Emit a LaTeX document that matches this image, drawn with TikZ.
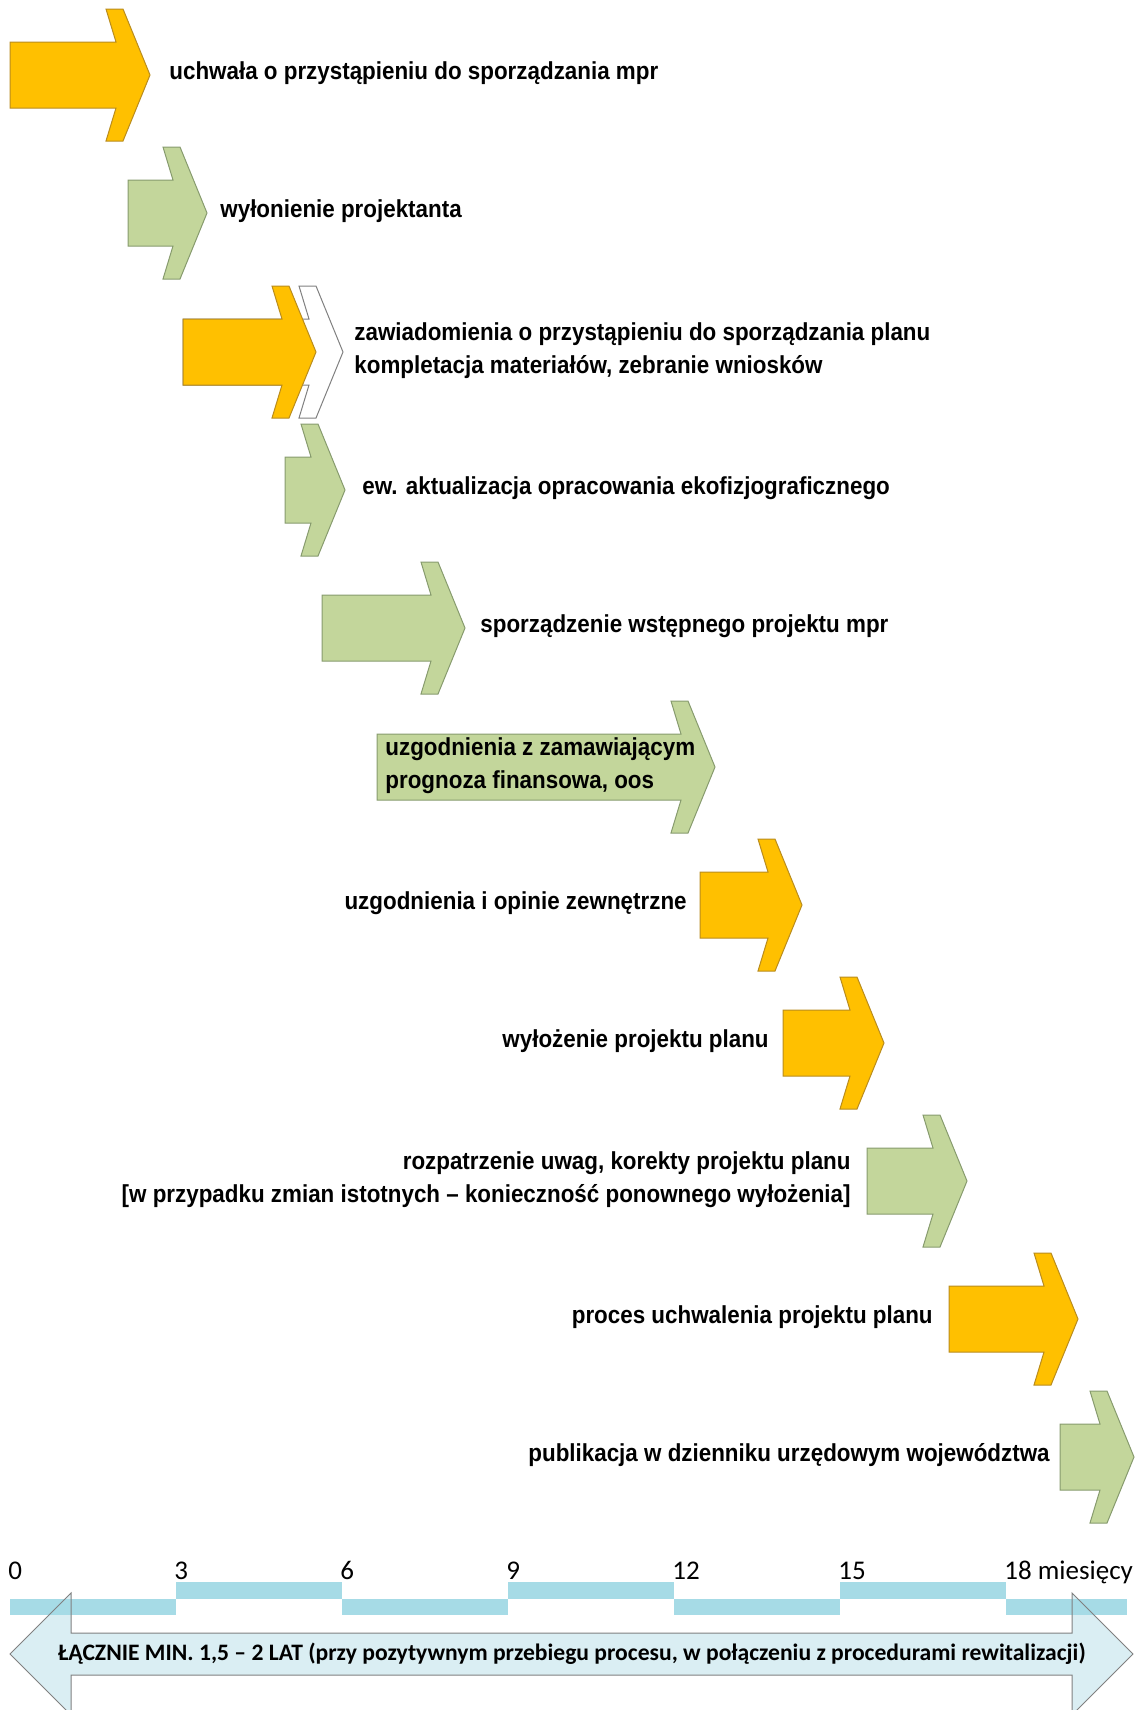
\documentclass[tikz,border=0pt]{standalone}
\usepackage{fontspec}
\setmainfont{Liberation Sans}
\newfontfamily\stepfont{Liberation Sans}[FakeStretch=0.91]
\newfontfamily\calibri{Carlito}
\usetikzlibrary{positioning}
\definecolor{gold}{RGB}{255,192,0}
\definecolor{golddraw}{RGB}{185,140,30}
\definecolor{olive}{RGB}{195,214,155}
\definecolor{olivedraw}{RGB}{135,155,110}
\definecolor{aqua}{RGB}{166,219,230}
\definecolor{aqualight}{RGB}{218,238,243}
\newcommand{\stagearrow}[4]{\filldraw[#1] (#2,#4-33) -- (#3-34,#4-33) -- (#3-44,#4-66) -- (#3-27,#4-66) -- (#3,#4) -- (#3-27,#4+66) -- (#3-44,#4+66) -- (#3-34,#4+33) -- (#2,#4+33) -- cycle;}

\begin{document}
\begin{tikzpicture}[x=0.5pt,y=-0.5pt,
  stepgold/.style={fill=gold,draw=golddraw,line width=0.5pt},
  stepgreen/.style={fill=olive,draw=olivedraw,line width=0.5pt},
  stepblank/.style={fill=white,draw=gray,line width=0.5pt},
  desc/.style={inner sep=0pt,font=\stepfont\fontsize{12.3}{16.5}\selectfont\bfseries},
  month/.style={inner sep=0pt,font=\calibri\fontsize{13.5}{16}\selectfont},
  total/.style={inner sep=0pt,font=\calibri\fontsize{11.8}{14}\selectfont\bfseries}]

\useasboundingbox (0,0) rectangle (1141,1710);

\stagearrow{stepgold}{10}{150}{75}
\stagearrow{stepgreen}{128}{207}{213}
\stagearrow{stepblank}{183}{343}{352}
\stagearrow{stepgold}{183}{316}{352}
\stagearrow{stepgreen}{285}{345}{490}
\stagearrow{stepgreen}{322}{465}{628}
\stagearrow{stepgreen}{377}{715}{767}
\stagearrow{stepgold}{700}{802}{905}
\stagearrow{stepgold}{783}{884}{1043}
\stagearrow{stepgreen}{867}{967}{1181}
\stagearrow{stepgold}{949}{1078}{1319}
\stagearrow{stepgreen}{1060}{1134}{1457}

\node[desc,anchor=west] (uchwala) at (169,73) {uchwała o przystąpieniu do sporządzania mpr};
\node[desc,anchor=west] (projektant) at (220,211) {wyłonienie projektanta};
\node[desc,anchor=west,align=left] (zawiadomienia) at (354,351) {zawiadomienia o przystąpieniu do sporządzania planu\\kompletacja materiałów, zebranie wniosków};
\node[desc,anchor=west] (ekofizjografia) at (362,488) {ew. aktualizacja opracowania ekofizjograficznego};
\node[desc,anchor=west] (wstepny) at (480,626) {sporządzenie wstępnego projektu mpr};
\node[desc,anchor=west,align=left] (zamawiajacy) at (385,766) {uzgodnienia z zamawiającym\\prognoza finansowa, oos};
\node[desc,anchor=east] (opinie) at (687,903) {uzgodnienia i opinie zewnętrzne};
\node[desc,anchor=east] (wylozenie) at (769,1041) {wyłożenie projektu planu};
\node[desc,anchor=east,align=right] (uwagi) at (851,1180) {rozpatrzenie uwag, korekty projektu planu\\{}[w przypadku zmian istotnych – konieczność ponownego wyłożenia]};
\node[desc,anchor=east] (uchwalenie) at (933,1317) {proces uchwalenia projektu planu};
\node[desc,anchor=east] (publikacja) at (1050,1455) {publikacja w dzienniku urzędowym województwa};

\fill[aqualight] (10,1654) -- (71,1593) -- (71,1633) -- (1072,1633) -- (1072,1593) -- (1133,1654) -- (1072,1715) -- (1072,1675) -- (71,1675) -- (71,1715) -- cycle;

\foreach \i in {0,2,4}
  \fill[aqua] ({10+166*\i},1599) rectangle ({176+166*\i},1615);
\foreach \i in {1,3,5}
  \fill[aqua] ({10+166*\i},1582) rectangle ({176+166*\i},1599);
\fill[aqua] (1006,1599) rectangle (1127,1615);

\draw[gray,line width=0.5pt] (10,1654) -- (71,1593) -- (71,1633) -- (1072,1633) -- (1072,1593) -- (1133,1654) -- (1072,1715) -- (1072,1675) -- (71,1675) -- (71,1715) -- cycle;

\foreach \i in {0,...,5} {
  \pgfmathtruncatemacro\m{3*\i}
  \node[month,anchor=base west] (m\m) at ({8+166*\i},1579) {\m};
}
\node[month,anchor=base west] (m18) at (1004,1579) {18 miesięcy};

\node[total] (razem) at (572,1654) {ŁĄCZNIE MIN. 1,5 – 2 LAT (przy pozytywnym przebiegu procesu, w połączeniu z procedurami rewitalizacji)};
\end{tikzpicture}
\end{document}
